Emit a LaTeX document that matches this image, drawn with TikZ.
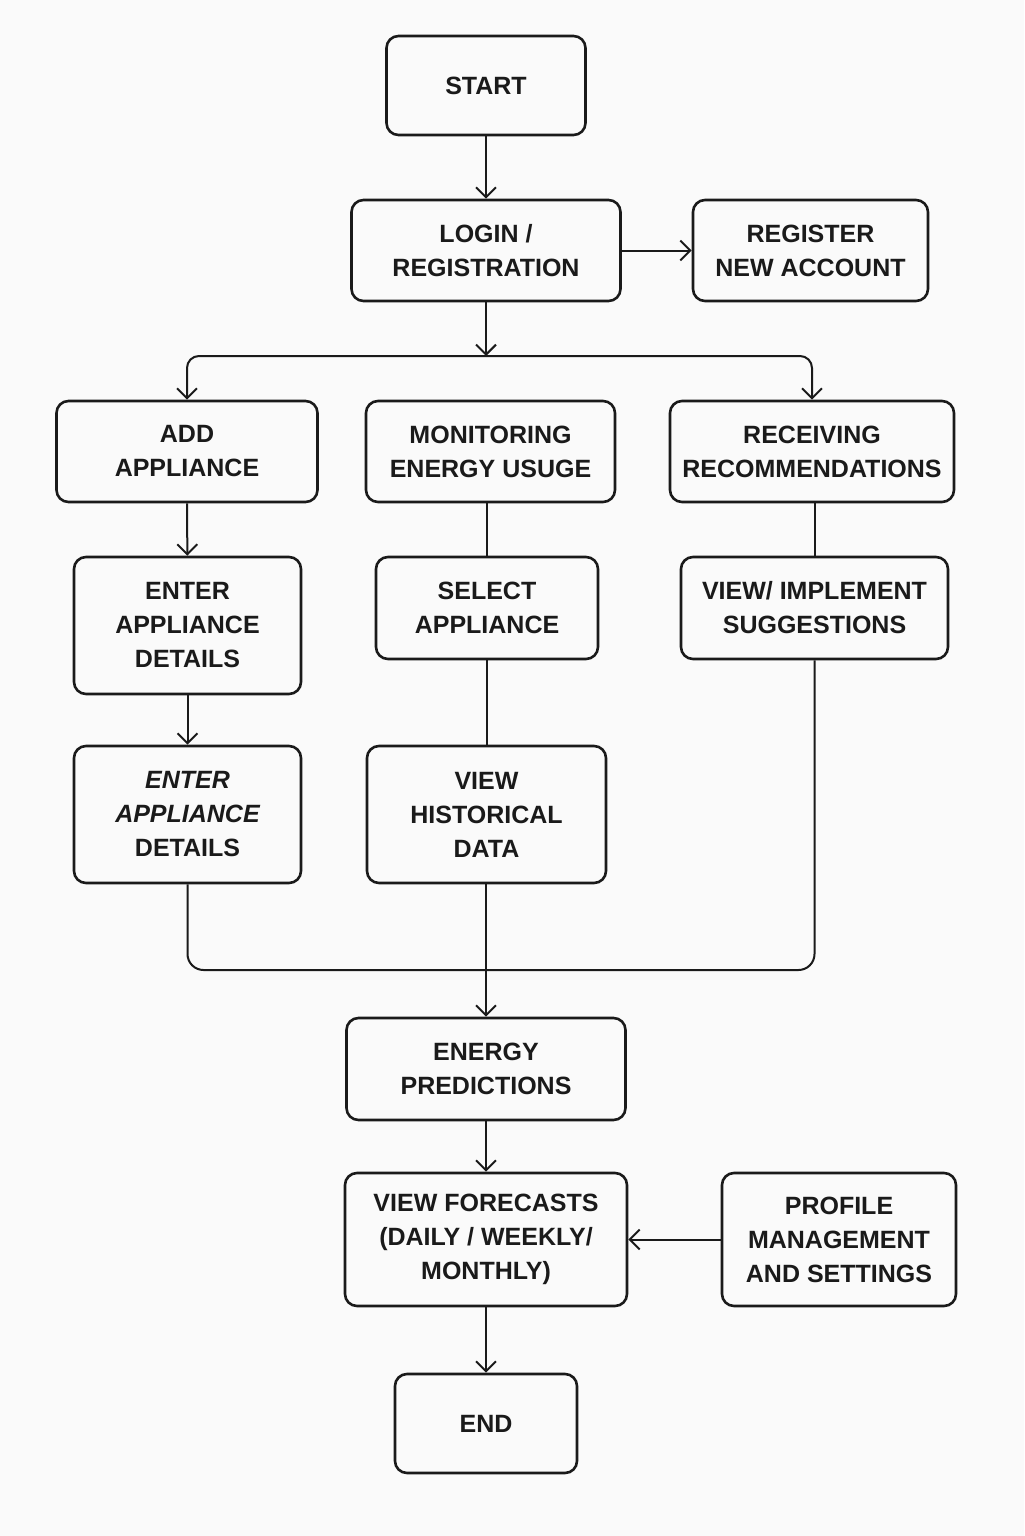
\documentclass[tikz,border=0pt]{standalone}
\usepackage{fontspec}
\setmainfont{Liberation Sans}
\usetikzlibrary{arrows.meta}
\definecolor{bg}{HTML}{FAFAFA}
\definecolor{ink}{HTML}{1A1A1A}
\begin{document}
\begin{tikzpicture}[x=0.5pt,y=-0.5pt,
  box/.style={draw=ink, fill=bg, rounded corners=6pt, line width=1.3pt, align=center,
    inner sep=0pt, text=ink, font=\fontsize{12.5}{17}\selectfont\bfseries},
  conn/.style={draw=ink, line width=1pt},
  arr/.style={conn, -{Straight Barb[length=5pt,width=10pt,line width=1pt]}}]
\fill[bg] (0,0) rectangle (1024,1536);
\useasboundingbox (0,0) rectangle (1024,1536);

\node[box, minimum width=99.5pt, minimum height=49.5pt] (start) at (486,85.5) {START};
\node[box, minimum width=134.5pt, minimum height=50.5pt] (login) at (486,250.5) {LOGIN /\\REGISTRATION};
\node[box, minimum width=117.5pt, minimum height=50.5pt] (reg) at (810.5,250.5) {REGISTER\\NEW ACCOUNT};

\node[box, minimum width=130.5pt, minimum height=50.5pt] (add) at (187,451.5) {ADD\\APPLIANCE};
\node[box, minimum width=124.5pt, minimum height=50.5pt] (mon) at (490.5,451.5) {MONITORING\\ENERGY USUGE};
\node[box, minimum width=142pt, minimum height=50.5pt] (recv) at (812,451.5) {RECEIVING\\RECOMMENDATIONS};

\node[box, minimum width=113.5pt, minimum height=68.5pt] (enter) at (187.5,625.5) {ENTER\\APPLIANCE\\DETAILS};
\node[box, minimum width=111pt, minimum height=51pt] (sel) at (487,608) {SELECT\\APPLIANCE};
\node[box, minimum width=133.5pt, minimum height=51pt] (impl) at (814.5,608) {VIEW/ IMPLEMENT\\SUGGESTIONS};

\node[box, minimum width=113.5pt, minimum height=68.5pt] (enter2) at (187.5,814.5) {\itshape ENTER\\\itshape APPLIANCE\\DETAILS};
\node[box, minimum width=119.5pt, minimum height=68.5pt] (hist) at (486.5,814.5) {VIEW\\HISTORICAL\\DATA};

\node[box, minimum width=139.5pt, minimum height=51pt] (pred) at (486,1069) {ENERGY\\PREDICTIONS};
\node[box, minimum width=141pt, minimum height=66.5pt] (fore) at (486,1239.5) {VIEW FORECASTS\\(DAILY / WEEKLY/\\MONTHLY)};
\node[box, minimum width=117pt, minimum height=66.5pt] (prof) at (839,1239.5) {PROFILE\\MANAGEMENT\\AND SETTINGS};
\node[box, minimum width=91pt, minimum height=49.5pt] (end) at (486,1423.5) {END};

\coordinate (split) at (486,356);
\coordinate (merge) at (486,970);

\draw[arr] (start) -- (login);
\draw[arr] (login) -- (reg);
\draw[arr] (login.south) -- (split);
\draw[arr, rounded corners=6pt] (split) -| (add.north);
\draw[arr, rounded corners=6pt] (split) -| (recv.north);
\draw[arr] (add) -- (enter);
\draw[conn] (mon.south -| sel.north) -- (sel.north);
\draw[conn] (recv.south -| impl.north) -- (impl.north);
\draw[arr] (enter) -- (enter2);
\draw[conn] (sel.south -| hist.north) -- (hist.north);
\draw[conn, rounded corners=8pt] (enter2.south) |- (merge) -| (impl.south);
\draw[arr] (hist.south -| pred.north) -- (pred.north);
\draw[arr] (pred) -- (fore);
\draw[arr] (prof) -- (fore);
\draw[arr] (fore) -- (end);
\end{tikzpicture}
\end{document}
